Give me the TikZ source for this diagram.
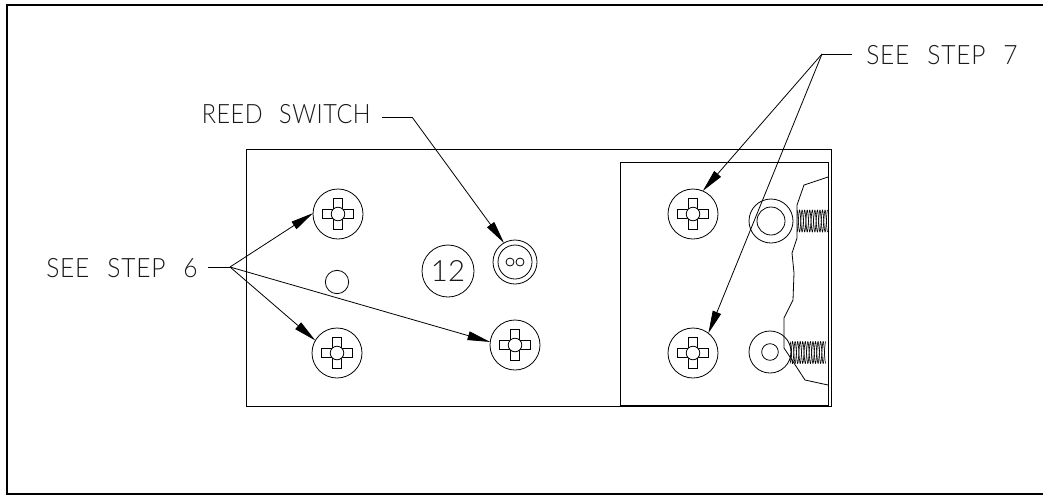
\documentclass[tikz,border=0pt]{standalone}
\usepackage{fontspec}
\setmainfont{Lato Light}
\newfontfamily\stepfont{Lato Light}[LetterSpace=3,WordSpace=2.4,FakeStretch=0.92]
\newfontfamily\reedfont{Lato Light}[LetterSpace=2,WordSpace=2.4,FakeStretch=0.88]
\usetikzlibrary{arrows.meta}
\tikzset{
  px/.style={x=0.75pt,y=-0.75pt},
  thin line/.style={line width=0.6pt,black},
  frame line/.style={line width=2pt,black,line cap=rect},
  head/.style={circle,draw,thin line,minimum size=37.5pt,inner sep=0pt,outer sep=0pt},
  ring/.style={circle,draw,thin line,inner sep=0pt,outer sep=0pt},
  leader/.style={thin line},
  arrowed/.style={thin line,-{Triangle[length=17pt,width=6.6pt]}},
  label/.style={inner sep=0pt,text=black!90},
  screw slot/.pic={
    \draw[thin line,fill=white] (-4.7,-15.8) -- (4.7,-15.8) -- (4.7,-4.7) -- (15.8,-4.7) -- (15.8,4.7) -- (4.7,4.7) -- (4.7,15.8) -- (-4.7,15.8) -- (-4.7,4.7) -- (-15.8,4.7) -- (-15.8,-4.7) -- (-4.7,-4.7) -- cycle;
    \draw[thin line,fill=white] (0,0) circle (6.8);
  }
}
\begin{document}
\begin{tikzpicture}[px]
\useasboundingbox (0,0) rectangle (1043,497);
% outer frame (open on the right)
\draw[frame line] (1046,5) -- (7,5) -- (7,494) -- (1046,494);
% plate and bracket
\draw[thin line] (246,149) rectangle (831,406);
\draw[thin line] (620,162) rectangle (828,405);
% screws
\node[head] (s1) at (338,214) {};
\node[head] (s2) at (337,353) {};
\node[head] (s3) at (515,345) {};
\node[head] (s4) at (693,214) {};
\node[head] (s5) at (693,353) {};
\foreach \n in {s1,s2,s3,s4,s5} \pic[px] at (\n) {screw slot};
% small hole and item balloon
\node[ring,minimum size=17.5pt] (hole) at (337,282) {};
\node[ring,minimum size=39pt,font=\fontsize{22}{24}\selectfont,text=black!90] (item) at (448,271) {12};
% reed switch
\node[ring,minimum size=33pt] (reed) at (515,262) {};
\node[ring,minimum size=25.5pt] (reedin) at (515,262) {};
\node[ring,minimum size=6pt] (pin1) at (510,262) {};
\node[ring,minimum size=6pt] (pin2) at (520,262) {};
% washers
\node[ring,minimum size=33pt] (w1) at (771,221) {};
\node[ring,minimum size=21pt] (w1in) at (771,221) {};
\node[ring,minimum size=31.5pt] (w2) at (770,352) {};
\node[ring,minimum size=12.5pt] (w2in) at (770,352) {};
% breakaway outline
\draw[thin line] (828,177) -- (804,185) -- (797,205) -- (797,238) -- (792,253) -- (794,273) -- (793,300) -- (784,318) -- (784,348) -- (790,357) -- (805,380) -- (828,385);
% threads
\foreach \s in {1,-1}{
  \draw[line width=0.45pt] plot[domain=0:2160,samples=220,smooth] ({797+5.1*\x/360},{221+\s*11*cos(\x)});
  \draw[line width=0.45pt] plot[domain=0:2520,samples=250,smooth] ({790+5.1*\x/360},{352.5+\s*11*cos(\x)});
}
% labels and leaders
\node[label,anchor=west,font=\stepfont\fontsize{20}{22}\selectfont] (t6) at (46,268) {SEE STEP 6};
\node[label,anchor=west,font=\reedfont\fontsize{20}{22}\selectfont] (tr) at (201.5,114) {REED SWITCH};
\node[label,anchor=west,font=\stepfont\fontsize{20}{22}\selectfont] (t7) at (866,55) {SEE STEP 7};
\coordinate (j6) at (230,267);
\coordinate (l6) at (208,267);
\coordinate (jr) at (412,117);
\coordinate (lr) at (382,117);
\coordinate (j7) at (822,54);
\coordinate (l7) at (852,54);
\draw[leader] (l6) -- (j6);
\draw[leader] (lr) -- (jr);
\draw[leader] (l7) -- (j7);
\draw[arrowed] (j6) -- (s1.178);
\draw[arrowed] (j6) -- (s2.150);
\draw[arrowed] (j6) -- (s3.173);
\draw[arrowed] (jr) -- (reed.120);
\draw[arrowed] (j7) -- (s4.67);
\draw[arrowed] (j7) -- (s5.52);
\end{tikzpicture}
\end{document}
